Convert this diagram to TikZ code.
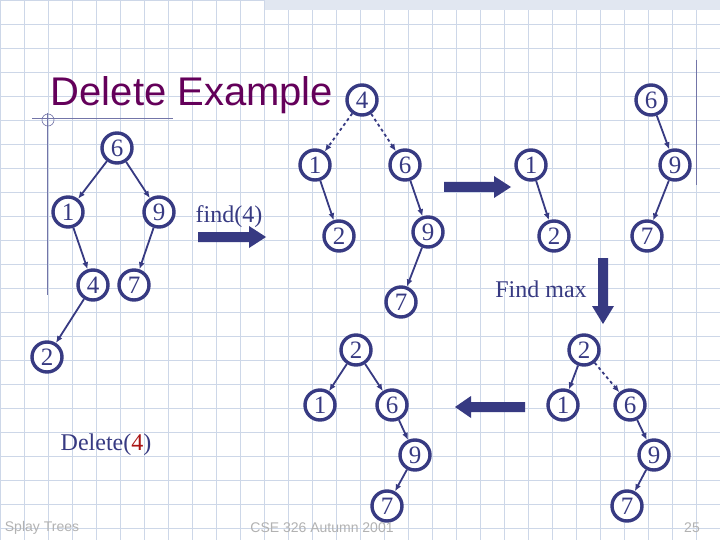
\documentclass[tikz,border=0pt]{standalone}
\usepackage{fontspec}
\setmainfont{Liberation Serif}
\newfontfamily\sansf{Liberation Sans}
\usetikzlibrary{arrows.meta,patterns}
\definecolor{nb}{RGB}{55,58,130}
\definecolor{gridc}{RGB}{205,215,232}
\definecolor{tpurp}{RGB}{100,0,90}
\definecolor{dred}{RGB}{170,20,20}
\tikzset{x=1pt,y=-1pt,
 nd/.style={circle,draw=nb,line width=3.4pt,fill=white,minimum size=30pt,inner sep=0pt,font=\fontsize{25}{25}\selectfont,text=nb},
 ed/.style={draw=nb,line width=1.8pt,-{Latex[length=7pt,width=6pt]}},
 dd/.style={ed,dashed},
 bigar/.style={draw=none,fill=nb},
 lbl/.style={text=nb,font=\fontsize{24}{24}\selectfont},
 foot/.style={text=gray!60,font=\sansf\fontsize{14}{14}\selectfont}}
\begin{document}
\begin{tikzpicture}
\useasboundingbox (0,0) rectangle (720,540);
\fill[white] (0,0) rectangle (720,540);
\foreach \k in {0,...,30} {\draw[gridc,line width=0.8pt] (\k*24,0) -- (\k*24,540);}
\foreach \k in {0,...,23} {\draw[gridc,line width=0.8pt] (0,\k*24) -- (720,\k*24);}
\fill[gridc!60] (265,0) rectangle (720,10);
\draw[nb!70,line width=0.8pt] (32,118) -- (173,118);
\draw[nb!70,line width=0.8pt] (47,113) -- (47,295);
\draw[nb!70,line width=0.6pt] (48,120) circle (6);
\draw[nb!70,line width=0.8pt] (696,60) -- (696,185);
\node[text=tpurp,font=\sansf\fontsize{40}{40}\selectfont] (title) at (192,95) {Delete Example};
% Tree A
\node[nd] (a6) at (117,148) {6};
\node[nd] (a1) at (68,212) {1};
\node[nd] (a9) at (159,212) {9};
\node[nd] (a4) at (93,285) {4};
\node[nd] (a7) at (134,285) {7};
\node[nd] (a2) at (47,357) {2};
\draw[ed] (a6)--(a1); \draw[ed] (a6)--(a9); \draw[ed] (a1)--(a4); \draw[ed] (a9)--(a7); \draw[ed] (a4)--(a2);
% Tree B
\node[nd] (b4) at (362,100) {4};
\node[nd] (b1) at (315,165) {1};
\node[nd] (b6) at (405,165) {6};
\node[nd] (b2) at (339,236) {2};
\node[nd] (b9) at (428,232) {9};
\node[nd] (b7) at (401,302) {7};
\draw[dd] (b4)--(b1); \draw[dd] (b4)--(b6); \draw[ed] (b1)--(b2); \draw[ed] (b6)--(b9); \draw[ed] (b9)--(b7);
% Tree C
\node[nd] (c1) at (531,165) {1};
\node[nd] (c2) at (554,236) {2};
\node[nd] (c6) at (651,100) {6};
\node[nd] (c9) at (675,165) {9};
\node[nd] (c7) at (647,236) {7};
\draw[ed] (c1)--(c2); \draw[ed] (c6)--(c9); \draw[ed] (c9)--(c7);
% Tree D
\node[nd] (d2) at (356,350) {2};
\node[nd] (d1) at (320,405) {1};
\node[nd] (d6) at (392,405) {6};
\node[nd] (d9) at (415,455) {9};
\node[nd] (d7) at (387,506) {7};
\draw[ed] (d2)--(d1); \draw[ed] (d2)--(d6); \draw[ed] (d6)--(d9); \draw[ed] (d9)--(d7);
% Tree E
\node[nd] (e2) at (584,350) {2};
\node[nd] (e1) at (563,405) {1};
\node[nd] (e6) at (630,405) {6};
\node[nd] (e9) at (654,455) {9};
\node[nd] (e7) at (627,506) {7};
\draw[ed] (e2)--(e1); \draw[dd] (e2)--(e6); \draw[ed] (e6)--(e9); \draw[ed] (e9)--(e7);
% big arrows
\fill[bigar] (198,232)--(249,232)--(249,226)--(266,237)--(249,248)--(249,242)--(198,242)--cycle;
\fill[bigar] (444,182)--(494,182)--(494,176)--(511,187)--(494,198)--(494,192)--(444,192)--cycle;
\fill[bigar] (598,258)--(608,258)--(608,306)--(614,306)--(603,324)--(592,306)--(598,306)--cycle;
\fill[bigar] (525,402)--(471,402)--(471,396)--(455,407)--(471,418)--(471,412)--(525,412)--cycle;
\node[lbl] (f4) at (229,217) {find(4)};
\node[lbl] (fm) at (541,289) {Find max};
\node[lbl] (del) at (106,445) {Delete(\textcolor{dred}{4})};
\node[foot] (s1) at (42,528) {Splay Trees};
\node[foot] (s2) at (322,528) {CSE 326 Autumn 2001};
\node[foot] (s3) at (692,528) {25};
\end{tikzpicture}
\end{document}
